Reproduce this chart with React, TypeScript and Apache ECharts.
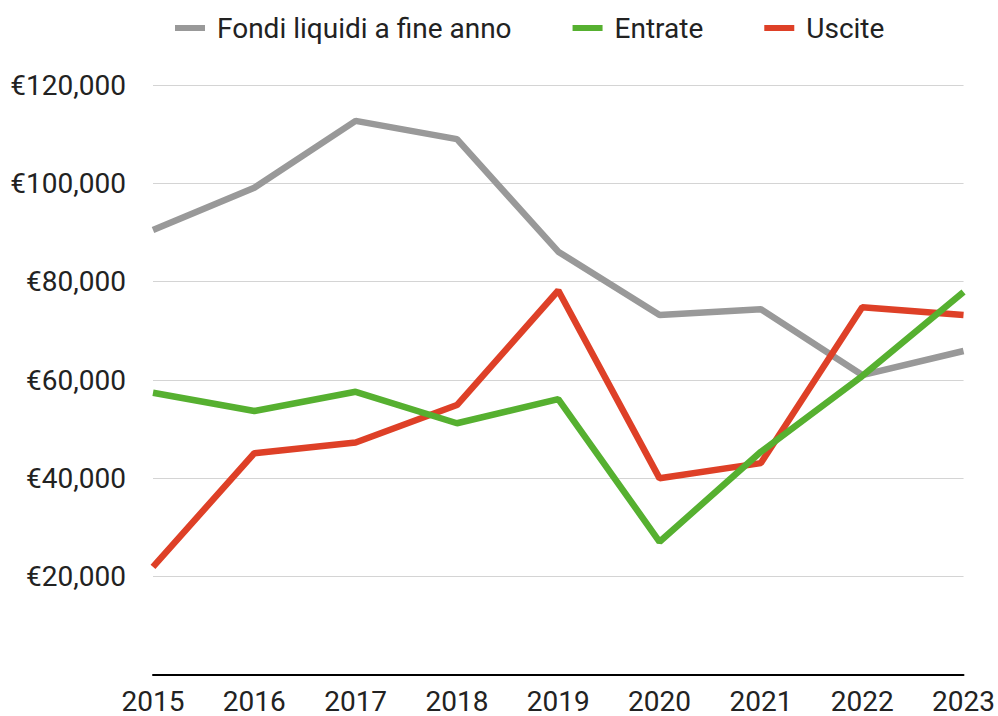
import React, { useEffect, useRef } from "react";
import * as echarts from "echarts";

const years = ["2015", "2016", "2017", "2018", "2019", "2020", "2021", "2022", "2023"];
const fondiLiquidi = [90500, 99100, 112700, 109000, 86100, 73200, 74400, 61000, 65900];
const entrate = [57400, 53700, 57600, 51200, 56100, 27100, 45400, 60800, 77900];
const uscite = [22000, 45100, 47300, 54900, 78200, 40000, 43100, 74800, 73200];
const seriesNames = ["Fondi liquidi a fine anno", "Entrate", "Uscite"];

const FONT = "Roboto";

export default function App() {
  const ref = useRef<HTMLDivElement>(null);
  useEffect(() => {
    if (!ref.current) return;
    const chart = echarts.init(ref.current, undefined, { renderer: "svg" });
    chart.setOption({
      animation: false,
      backgroundColor: "#ffffff",
      legend: {
        data: seriesNames,
        left: 170,
        top: 9,
        icon: "rect",
        itemWidth: 30,
        itemHeight: 6,
        itemGap: 61,
        textStyle: { fontFamily: FONT, fontSize: 28, color: "#222222", padding: [0, 0, 0, 7] },
      },
      grid: { left: 153, right: 33, top: 85, bottom: 41, containLabel: false },
      xAxis: {
        type: "category",
        data: years,
        boundaryGap: false,
        axisLine: { show: true, lineStyle: { color: "#000000", width: 2 } },
        axisTick: { show: false },
        axisLabel: { fontFamily: FONT, fontSize: 28, color: "#222222", margin: 12 },
        splitLine: { show: false },
      },
      yAxis: {
        type: "value",
        min: 0,
        max: 120000,
        interval: 20000,
        axisLine: { show: false },
        axisTick: { show: false },
        axisLabel: {
          fontFamily: FONT,
          fontSize: 28,
          color: "#222222",
          margin: 27,
          formatter: (v: number) => (v === 0 ? "" : "€" + v.toLocaleString("en-US")),
        },
        splitLine: { show: true, lineStyle: { color: "#d4d4d4", width: 1.2 } },
      },
      series: [
        {
          name: seriesNames[0],
          type: "line",
          data: fondiLiquidi,
          showSymbol: false,
          symbol: "none",
          z: 2,
          lineStyle: { color: "#999999", width: 6.5 },
          itemStyle: { color: "#999999" },
        },
        {
          name: seriesNames[2],
          type: "line",
          data: uscite,
          showSymbol: false,
          symbol: "none",
          z: 3,
          lineStyle: { color: "#de4027", width: 6.5 },
          itemStyle: { color: "#de4027" },
        },
        {
          name: seriesNames[1],
          type: "line",
          data: entrate,
          showSymbol: false,
          symbol: "none",
          z: 4,
          lineStyle: { color: "#56b030", width: 6.5 },
          itemStyle: { color: "#56b030" },
        },
      ],
    });
    return () => chart.dispose();
  }, []);
  return (
    <div
      ref={ref}
      style={{ position: "fixed", left: 0, top: 0, width: 998, height: 716, background: "#fff" }}
    />
  );
}
